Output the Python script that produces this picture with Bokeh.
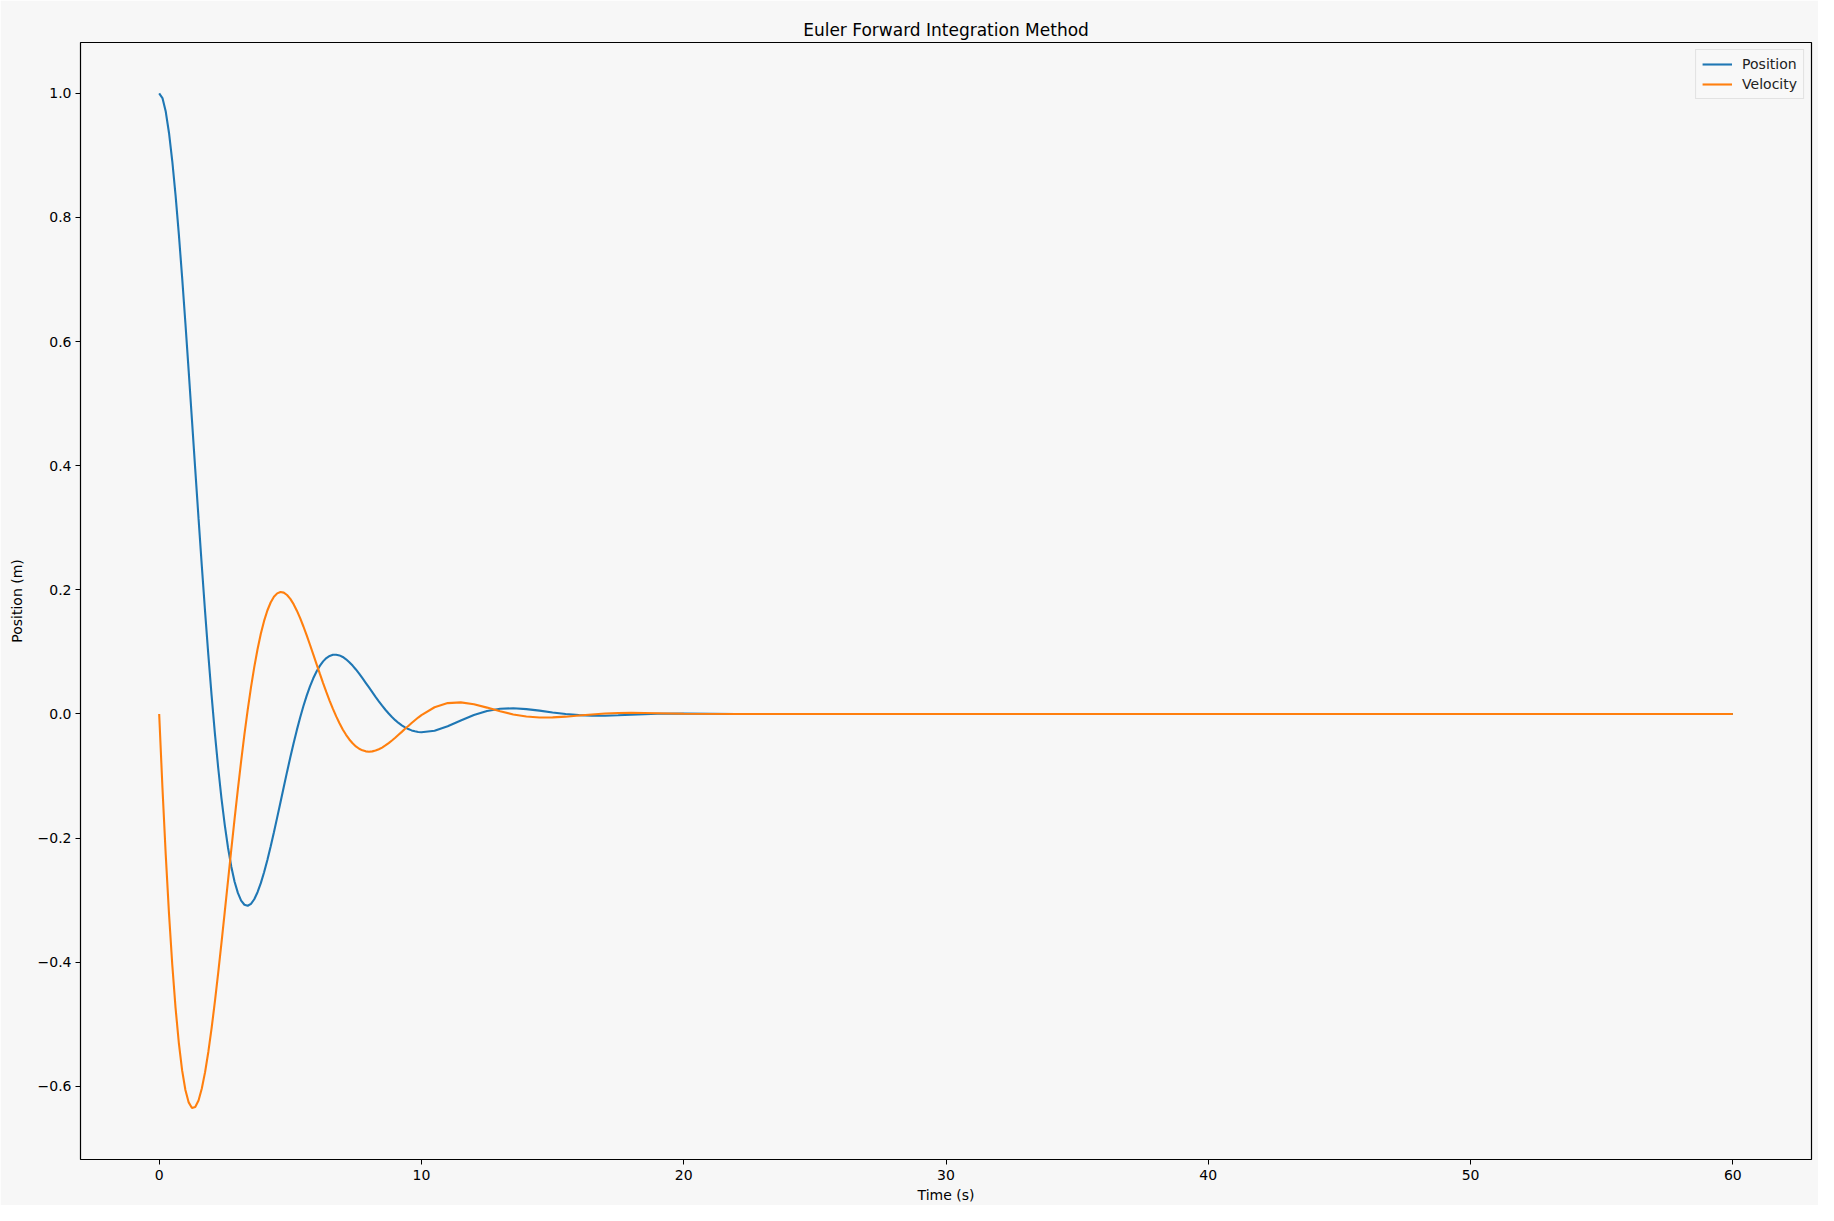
from bokeh.plotting import figure
from bokeh.models import Range1d, Legend, LegendItem, FixedTicker, CustomJSTickFormatter, ColumnDataSource
from bokeh.embed import file_html
from bokeh.resources import INLINE

# Time samples (s)
time_s = [0.0, 0.125, 0.25, 0.375, 0.5, 0.625, 0.75, 0.875, 1.0, 1.125, 1.25, 1.375, 1.5, 1.625,
          1.75, 1.875, 2.0, 2.125, 2.25, 2.375, 2.5, 2.625, 2.75, 2.875, 3.0, 3.125, 3.25, 3.375,
          3.5, 3.625, 3.75, 3.875, 4.0, 4.125, 4.25, 4.375, 4.5, 4.625, 4.75, 4.875, 5.0, 5.125,
          5.25, 5.375, 5.5, 5.625, 5.75, 5.875, 6.0, 6.125, 6.25, 6.375, 6.5, 6.625, 6.75, 6.875,
          7.0, 7.125, 7.25, 7.375, 7.5, 7.625, 7.75, 7.875, 8.0, 8.125, 8.25, 8.375, 8.5, 8.625,
          8.75, 8.875, 9.0, 9.125, 9.25, 9.375, 9.5, 9.625, 9.75, 9.875, 10.0,
          10.5, 11.0, 11.5, 12.0, 12.5, 13.0, 13.5, 14.0, 14.5, 15.0, 15.5, 16.0, 16.5, 17.0,
          17.5, 18.0, 18.5, 19.0, 20.0, 22.0, 25.0, 30.0, 40.0, 50.0, 60.0]

# Position (m)
position = [1.0, 0.9924, 0.9707, 0.9362, 0.8906, 0.8356, 0.7727, 0.7035, 0.6296, 0.5524, 0.4735,
            0.3941, 0.3155, 0.2388, 0.1649, 0.0947, 0.0290, -0.0316, -0.0867, -0.1359, -0.1789,
            -0.2156, -0.2461, -0.2703, -0.2884, -0.3007, -0.3075, -0.3091, -0.3060, -0.2986,
            -0.2873, -0.2727, -0.2552, -0.2354, -0.2137, -0.1906, -0.1667, -0.1422, -0.1177,
            -0.0934, -0.0698, -0.0472, -0.0257, -0.0056, 0.0128, 0.0296, 0.0444, 0.0574, 0.0684,
            0.0775, 0.0847, 0.0900, 0.0935, 0.0953, 0.0955, 0.0943, 0.0918, 0.0881, 0.0834,
            0.0779, 0.0717, 0.0649, 0.0577, 0.0502, 0.0427, 0.0351, 0.0276, 0.0204, 0.0134,
            0.0068, 0.0007, -0.0049, -0.0100, -0.0145, -0.0184, -0.0217, -0.0244, -0.0265,
            -0.0280, -0.0290, -0.0295,
            -0.0270, -0.0197, -0.0105, -0.0018, 0.0047, 0.0083, 0.0091, 0.0078, 0.0053, 0.0024,
            -0.0001, -0.0019, -0.0027, -0.0028, -0.0022, -0.0014, -0.0005, 0.0002, 0.0006,
            0.0, 0.0, 0.0, 0.0, 0.0, 0.0]

# Velocity (m/s)
velocity = [0.0, -0.1194, -0.2270, -0.3222, -0.4045, -0.4740, -0.5305, -0.5744, -0.6060, -0.6260,
            -0.6349, -0.6335, -0.6228, -0.6037, -0.5772, -0.5443, -0.5060, -0.4633, -0.4173,
            -0.3689, -0.3191, -0.2687, -0.2184, -0.1691, -0.1215, -0.0760, -0.0331, 0.0066,
            0.0429, 0.0755, 0.1043, 0.1291, 0.1499, 0.1667, 0.1796, 0.1887, 0.1943, 0.1965,
            0.1955, 0.1917, 0.1854, 0.1769, 0.1664, 0.1543, 0.1409, 0.1265, 0.1115, 0.0960,
            0.0804, 0.0649, 0.0497, 0.0351, 0.0212, 0.0081, -0.0040, -0.0151, -0.0250, -0.0336,
            -0.0411, -0.0473, -0.0523, -0.0561, -0.0587, -0.0603, -0.0608, -0.0603, -0.0590,
            -0.0569, -0.0542, -0.0508, -0.0470, -0.0428, -0.0383, -0.0336, -0.0289, -0.0240,
            -0.0193, -0.0146, -0.0101, -0.0058, -0.0018,
            0.0108, 0.0175, 0.0186, 0.0155, 0.0102, 0.0043, -0.0008, -0.0041, -0.0057, -0.0056,
            -0.0044, -0.0026, -0.0008, 0.0006, 0.0015, 0.0018, 0.0016, 0.0012, 0.0002,
            -0.0002, 0.0, 0.0, 0.0, 0.0, 0.0]

x_ticks = [0, 10, 20, 30, 40, 50, 60]
y_ticks = [-0.6, -0.4, -0.2, 0.0, 0.2, 0.4, 0.6, 0.8, 1.0]

BG = "#f7f7f7"
FONT = "DejaVu Sans"

p = figure(width=1818, height=1205, output_backend="svg", toolbar_location=None,
           x_range=Range1d(-3, 63), y_range=Range1d(-0.718, 1.082),
           title="Euler Forward Integration Method")
p.min_border_left = 80
p.min_border_right = 7
p.min_border_top = 42
p.min_border_bottom = 44
p.background_fill_color = BG
p.border_fill_color = BG
p.outline_line_color = "black"
p.outline_line_width = 1.2
p.grid.visible = False

p.title.align = "center"
p.title.text_font = FONT
p.title.text_font_size = "17px"
p.title.text_font_style = "normal"
p.title.text_color = "black"
p.title.standoff = 6

src = ColumnDataSource(dict(t=time_s, pos=position, vel=velocity))
r1 = p.line("t", "pos", source=src, line_color="#1f77b4", line_width=2.1)
r2 = p.line("t", "vel", source=src, line_color="#ff7f0e", line_width=2.1)

fmt = CustomJSTickFormatter(code="return tick.toFixed(1).replace('-', '\u2212');")
p.xaxis.ticker = FixedTicker(ticks=x_ticks)
p.yaxis.ticker = FixedTicker(ticks=y_ticks)
p.yaxis.formatter = fmt
p.xaxis.axis_label = "Time (s)"
p.yaxis.axis_label = "Position (m)"
for ax in (p.xaxis, p.yaxis):
    ax.major_label_text_font = FONT
    ax.major_label_text_font_size = "14px"
    ax.major_label_text_color = "black"
    ax.axis_label_text_font = FONT
    ax.axis_label_text_font_size = "14px"
    ax.axis_label_text_font_style = "normal"
    ax.axis_label_text_color = "black"
    ax.axis_line_color = None
    ax.major_tick_line_color = "black"
    ax.major_tick_in = 0
    ax.major_tick_out = 5
    ax.minor_tick_line_color = None
p.yaxis.major_label_standoff = 4
p.yaxis.axis_label_standoff = 10
p.xaxis.major_label_standoff = 5
p.xaxis.axis_label_standoff = 4

legend = Legend(items=[LegendItem(label="Position", renderers=[r1]),
                       LegendItem(label="Velocity", renderers=[r2])],
                location="top_right")
legend.label_text_font = FONT
legend.label_text_font_size = "14px"
legend.label_text_color = "#222222"
legend.glyph_width = 30
legend.glyph_height = 16
legend.label_height = 16
legend.spacing = 4
legend.padding = 6
legend.margin = 7
legend.label_standoff = 10
legend.border_line_color = "#cccccc"
legend.border_line_width = 1
legend.background_fill_color = BG
legend.background_fill_alpha = 0.8
p.add_layout(legend)

open("out.html", "w").write(file_html(p, INLINE))
